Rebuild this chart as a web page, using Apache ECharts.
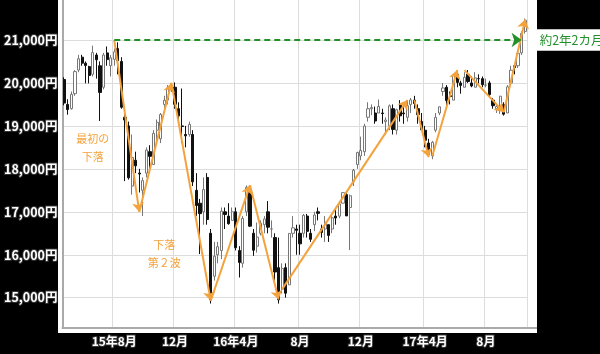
<!DOCTYPE html>
<html><head><meta charset="utf-8">
<script src="https://cdn.jsdelivr.net/npm/echarts@6/dist/echarts.min.js"></script>
<style>html,body{margin:0;padding:0;background:#000;}#c{width:600px;height:354px;}</style>
</head><body><div id="c"></div>
<script>
var weeks = ['2015/05/01','2015/05/08','2015/05/15','2015/05/22','2015/05/29','2015/06/05','2015/06/12','2015/06/19','2015/06/26','2015/07/03','2015/07/10','2015/07/17','2015/07/24','2015/07/31','2015/08/07','2015/08/14','2015/08/21','2015/08/28','2015/09/04','2015/09/11','2015/09/18','2015/09/25','2015/10/02','2015/10/09','2015/10/16','2015/10/23','2015/10/30','2015/11/06','2015/11/13','2015/11/20','2015/11/27','2015/12/04','2015/12/11','2015/12/18','2015/12/25',
'2016/01/01','2016/01/08','2016/01/15','2016/01/22','2016/01/29','2016/02/05','2016/02/12','2016/02/19','2016/02/26','2016/03/04','2016/03/11','2016/03/18','2016/03/25','2016/04/01','2016/04/08','2016/04/15','2016/04/22','2016/04/29','2016/05/06','2016/05/13','2016/05/20','2016/05/27','2016/06/03','2016/06/10','2016/06/17','2016/06/24','2016/07/01','2016/07/08','2016/07/15','2016/07/22','2016/07/29','2016/08/05','2016/08/12','2016/08/19','2016/08/26','2016/09/02','2016/09/09','2016/09/16','2016/09/23','2016/09/30','2016/10/07','2016/10/14','2016/10/21','2016/10/28','2016/11/04','2016/11/11','2016/11/18','2016/11/25','2016/12/02','2016/12/09','2016/12/16','2016/12/23','2016/12/30',
'2017/01/06','2017/01/13','2017/01/20','2017/01/27','2017/02/03','2017/02/10','2017/02/17','2017/02/24','2017/03/03','2017/03/10','2017/03/17','2017/03/24','2017/03/31','2017/04/07','2017/04/14','2017/04/21','2017/04/28','2017/05/05','2017/05/12','2017/05/19','2017/05/26','2017/06/02','2017/06/09','2017/06/16','2017/06/23','2017/06/30','2017/07/07','2017/07/14','2017/07/21','2017/07/28','2017/08/04','2017/08/11','2017/08/18','2017/08/25','2017/09/01','2017/09/08','2017/09/15','2017/09/22','2017/09/29','2017/10/06','2017/10/13','2017/10/20'];

var opens = [20080,19500,19400,19750,20300,20600,20460,20380,20200,20650,20400,19900,20700,20400,20550,20800,20500,19200,19000,17600,18200,17900,17500,17900,18400,18100,18900,18700,19500,19600,19900,19900,19400,19000,18800,
18800,18800,17500,17200,17000,17800,16500,15500,16000,16100,17000,16900,16800,17000,16100,15800,17000,17500,16500,16200,16500,16700,17000,16600,16400,15700,15200,15700,15300,16500,16600,16500,16500,16900,16500,16700,17000,16600,16600,16700,16600,16900,16900,17200,17400,17100,17700,18100,18300,18400,19200,19400,19300,
19300,19300,19100,19000,19400,18900,19500,19300,19200,19500,19600,19400,19100,18900,18600,18300,18900,19300,19800,19900,19700,19600,20200,20000,19900,20200,20000,19900,20100,20100,19950,20000,19600,19400,19400,19500,19300,20000,20400,20400,20700,21200];
var closes = [19532,19380,19733,20264,20563,20461,20407,20174,20706,20539,19780,20650,20544,20585,20724,20519,19435,19136,17792,18264,18070,17880,17725,18438,18291,18825,19083,19265,19597,19879,19883,19504,19230,18986,18769,
19034,17698,17147,16958,17518,16820,14953,15967,16188,17014,16938,16724,17002,16164,15821,16848,17572,16666,16106,16412,16736,16834,16642,16601,15599,14952,15682,15106,16497,16627,16569,16254,16919,16545,16360,16925,16965,16519,16754,16450,16860,16856,17184,17446,16905,17374,17967,18381,18426,18996,19401,19427,19114,
19454,19287,19137,19467,18918,19378,19234,19283,19469,19604,19521,19262,18909,18664,18335,18620,19197,19445,19883,19590,19686,20177,20013,19943,20132,20033,19929,20118,20099,19959,19952,19729,19470,19452,19691,19274,19909,20296,20356,20690,21155,21457];
var lows = [19480,19260,19380,19700,20250,20400,19990,19990,20150,20100,19115,19850,20400,20150,20400,20200,19400,17714,17750,17400,17900,17450,16901,17800,17900,18100,18600,18600,19300,19500,19800,19400,19050,18600,18500,
18750,17600,16900,16017,16700,16700,14865,15400,15800,15900,16600,16700,16800,16100,15471,15700,16900,16650,15975,16050,16450,16500,16500,16400,15400,14864,15100,15000,15300,16400,16000,16000,16400,16400,16300,16550,16800,16400,16300,16300,16500,16700,16850,17200,16900,16111,17600,18000,18200,18300,19100,19250,19050,
19300,19050,18800,18900,18800,18800,19100,19050,19100,19300,19400,19050,18900,18500,18300,18224,18850,19250,19700,19400,19500,19600,19900,19750,19900,20000,19900,19900,19990,19900,19900,19700,19400,19300,19280,19240,19300,19950,20200,20350,20650,21150];
var highs = [20133,19620,19800,20300,20655,20655,20500,20400,20868,20700,20500,20700,20850,20650,20800,20946,20600,19300,19100,18800,18400,18000,17800,18500,18550,18900,19150,19300,19700,19950,20000,20012,19550,19870,19000,
19100,18900,17900,17300,17800,17900,16600,16300,16300,17100,17100,17200,17100,17100,16200,16900,17613,17600,16600,16750,16800,16900,17250,16800,16500,16400,15800,15800,16500,16900,16700,16700,16950,16950,16600,17000,17100,16700,16900,16700,16900,17050,17250,17450,17450,17400,18000,18400,18750,19050,19550,19500,19450,
19615,19400,19200,19500,19500,19400,19600,19450,19600,19650,19700,19500,19300,19000,18700,18650,19300,19450,19998,19950,19800,20200,20239,20050,20250,20300,20150,20250,20200,20150,20100,20050,19650,19500,19700,19550,19950,20400,20400,20700,21200,21500];

var tickWeeks = ['2015/08/07','2015/12/04','2016/04/01','2016/08/05','2016/12/02','2017/04/07','2017/08/04'];
var tickLabels = ['15年8月','12月','16年4月','8月','12月','17年4月','8月'];

// annotation arrows: [fromIndex, fromValue, toIndex, toValue]
var orangeArrows = [
  [14,21000,21,17000],
  [21,17000,30,20000],
  [30,20000,41,14930],
  [41,14930,52,17620],
  [52,17620,60,14960],
  [61,15200,96,19600],
  [98,19600,102,18270],
  [103,18300,110,20300],
  [112,20300,123,19320],
  [123,19320,129,21480]
];
var greenArrow = [14,21000,128,21000];
var greenLabel = '約2年2カ月';
var notes = [
  {text:'最初の\n下落', idx:8, value:18480},
  {text:'下落\n第２波', idx:28, value:16030}
];

var ohlc = weeks.map(function(w,i){ return [opens[i], closes[i], lows[i], highs[i]]; });
var ORANGE = '#f4a23c', GREEN = '#23902a';

var mlData = orangeArrows.map(function(a){
  return [{coord:[a[0],a[1]], lineStyle:{color:ORANGE,width:2,type:'solid'}}, {coord:[a[2],a[3]]}];
});
mlData.push([{coord:[greenArrow[0],greenArrow[1]], symbolSize:[0,0],
  lineStyle:{color:GREEN,width:2,type:[6,4]},
  label:{show:true,position:'end',formatter:greenLabel,color:GREEN,fontSize:12.5,
    fontFamily:'Noto Sans CJK JP',backgroundColor:'#fff',padding:[5,4,4,3],distance:15}},
  {coord:[greenArrow[2],greenArrow[3]], symbolSize:[11,10]}]);

var mpData = notes.map(function(n){
  return {coord:[n.idx,n.value], symbol:'circle', symbolSize:2, itemStyle:{color:'rgba(0,0,0,0)'},
    label:{show:true,position:'inside',formatter:n.text,color:ORANGE,fontSize:11,lineHeight:18,
      fontFamily:'Noto Sans CJK JP',align:'center'}};
});

function fmt(v){ return String(Math.round(v)).replace(/\B(?=(\d{3})+(?!\d))/g, ',') + '円'; }

var chart = echarts.init(document.getElementById('c'), null, {renderer:'canvas'});
chart.setOption({
  animation:false,
  backgroundColor:'#000',
  graphic:[
    {type:'rect', z:-10, silent:true, shape:{x:58,y:0,width:479,height:333}, style:{fill:'#fff'}},
    {type:'line', z:10, silent:true, shape:{x1:527,y1:328,x2:537,y2:328}, style:{stroke:'#aaa',lineWidth:2}}
  ],
  grid:{left:62,right:73,top:0,bottom:26},
  xAxis:{
    type:'category', data:weeks, boundaryGap:true,
    axisLine:{show:true,lineStyle:{color:'#aaa',width:2}},
    axisTick:{show:false},
    axisLabel:{
      interval:function(i,v){ return tickWeeks.indexOf(v) >= 0; },
      formatter:function(v){ var k = tickWeeks.indexOf(v); return k>=0 ? tickLabels[k] : ''; },
      color:'#fff', fontSize:12, fontWeight:'bold', fontFamily:'Noto Sans CJK JP',
      textBorderColor:'#333', textBorderWidth:2, margin:7
    },
    splitLine:{show:true, interval:function(i,v){ return tickWeeks.indexOf(v) >= 0; },
      lineStyle:{color:'#dcdcdc',width:1}}
  },
  yAxis:{
    type:'value', min:14295, max:21931, splitNumber:8, scale:true,
    axisLine:{show:true,lineStyle:{color:'#aaa',width:2}},
    axisTick:{show:false},
    axisLabel:{formatter:fmt, showMinLabel:false, showMaxLabel:false,
      color:'#fff', fontSize:12.5, fontWeight:'bold', fontFamily:'Noto Sans CJK JP',
      textBorderColor:'#333', textBorderWidth:2, margin:5},
    splitLine:{show:true, showMinLine:false, showMaxLine:false, lineStyle:{color:'#dcdcdc',width:1}}
  },
  series:[{
    type:'candlestick', data:ohlc, barWidth:'75%',
    itemStyle:{color:'#fff', color0:'#111', borderColor:'#777', borderColor0:'#111', borderWidth:1},
    markLine:{silent:true, symbol:['none','arrow'], symbolSize:9, animation:false,
      label:{show:false}, emphasis:{disabled:true}, data:mlData},
    markPoint:{silent:true, animation:false, data:mpData}
  }]
});
</script></body></html>
